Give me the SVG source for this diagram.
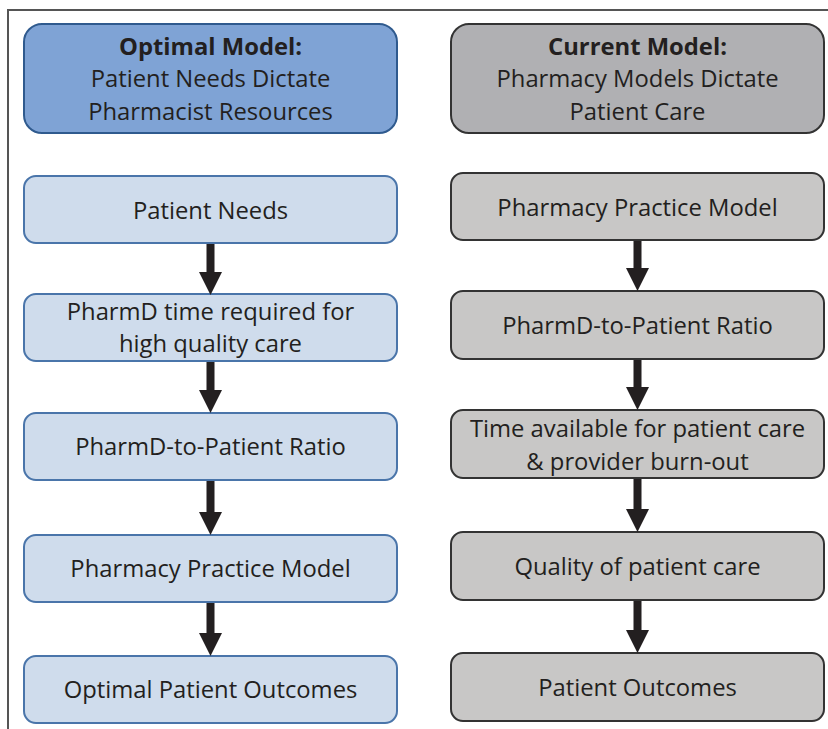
<svg xmlns="http://www.w3.org/2000/svg" width="828" height="729" viewBox="0 0 828 729">
<style>
  .hdrL { fill: #7fa3d5; stroke: #2f5a8e; stroke-width: 2; }
  .hdrR { fill: #b0b0b3; stroke: #333333; stroke-width: 2; }
  .boxL { fill: #cfdcec; stroke: #4a75aa; stroke-width: 2; }
  .boxR { fill: #c8c7c6; stroke: #333333; stroke-width: 2; }
  text { font-family: "Open Sans", "Noto Sans", "Liberation Sans", sans-serif; font-size: 23.8px; fill: #231f20; text-anchor: middle; }
  .b { font-weight: bold; }
  .arrow { fill: #231f20; }
  .frame { stroke: #555555; stroke-width: 2; fill: none; }
</style>
<path class="frame" d="M8,729 V10 H828"/>

<g id="hdr-optimal">
  <rect class="hdrL" x="24" y="24" width="373" height="109" rx="18"/>
  <text class="b" x="210.5" y="55">Optimal Model:</text>
  <text x="210.5" y="87">Patient Needs Dictate</text>
  <text x="210.5" y="120">Pharmacist Resources</text>
</g>
<g id="hdr-current">
  <rect class="hdrR" x="451" y="24" width="373" height="109" rx="18"/>
  <text class="b" x="637.5" y="55">Current Model:</text>
  <text x="637.5" y="87">Pharmacy Models Dictate</text>
  <text x="637.5" y="120">Patient Care</text>
</g>

<g id="L1"><rect class="boxL" x="24" y="176" width="373" height="67" rx="12"/><text x="210.5" y="219">Patient Needs</text></g>
<g id="L2"><rect class="boxL" x="24" y="294" width="373" height="67" rx="12"/><text x="210.5" y="320">PharmD time required for</text><text x="210.5" y="352">high quality care</text></g>
<g id="L3"><rect class="boxL" x="24" y="413" width="373" height="67" rx="12"/><text x="210.5" y="455">PharmD-to-Patient Ratio</text></g>
<g id="L4"><rect class="boxL" x="24" y="535" width="373" height="67" rx="12"/><text x="210.5" y="577">Pharmacy Practice Model</text></g>
<g id="L5"><rect class="boxL" x="24" y="656" width="373" height="67" rx="12"/><text x="210.5" y="698">Optimal Patient Outcomes</text></g>

<g id="R1"><rect class="boxR" x="451" y="173" width="373" height="67" rx="12"/><text x="637.5" y="216">Pharmacy Practice Model</text></g>
<g id="R2"><rect class="boxR" x="451" y="291" width="373" height="68" rx="12"/><text x="637.5" y="334">PharmD-to-Patient Ratio</text></g>
<g id="R3"><rect class="boxR" x="451" y="410" width="373" height="68" rx="12"/><text x="637.5" y="437">Time available for patient care</text><text x="637.5" y="470">&amp; provider burn-out</text></g>
<g id="R4"><rect class="boxR" x="451" y="532" width="373" height="68" rx="12"/><text x="637.5" y="575">Quality of patient care</text></g>
<g id="R5"><rect class="boxR" x="451" y="653" width="373" height="68" rx="12"/><text x="637.5" y="696">Patient Outcomes</text></g>

<g id="connectors">
  <path class="arrow" d="M206.5,244 H214.5 V272 H222 L210.5,295 L199,272 H206.5 Z"/>
  <path class="arrow" d="M206.5,362 H214.5 V390 H222 L210.5,413 L199,390 H206.5 Z"/>
  <path class="arrow" d="M206.5,481 H214.5 V512 H222 L210.5,535 L199,512 H206.5 Z"/>
  <path class="arrow" d="M206.5,603 H214.5 V633 H222 L210.5,656 L199,633 H206.5 Z"/>
  <path class="arrow" d="M633.5,241 H641.5 V268 H649 L637.5,291 L626,268 H633.5 Z"/>
  <path class="arrow" d="M633.5,360 H641.5 V387 H649 L637.5,410 L626,387 H633.5 Z"/>
  <path class="arrow" d="M633.5,479 H641.5 V509 H649 L637.5,532 L626,509 H633.5 Z"/>
  <path class="arrow" d="M633.5,601 H641.5 V630 H649 L637.5,653 L626,630 H633.5 Z"/>
</g>
</svg>
